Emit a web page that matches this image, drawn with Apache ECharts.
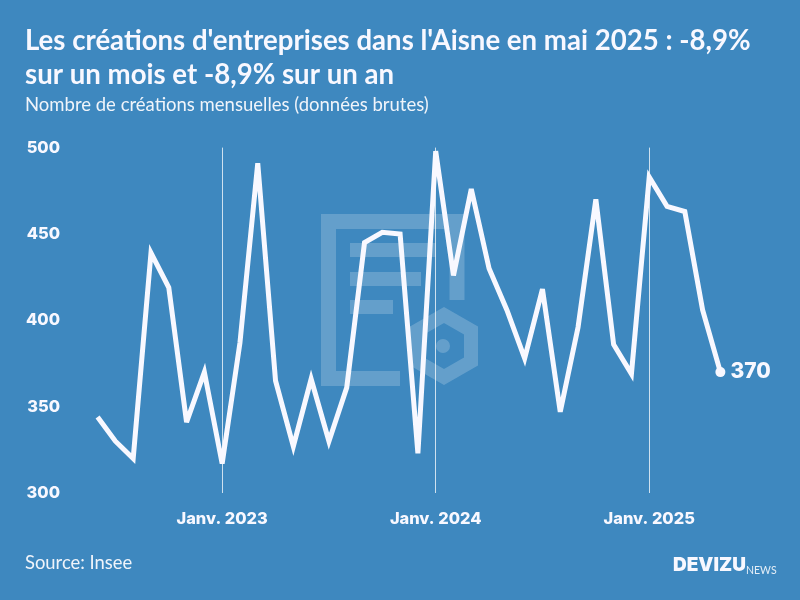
<!DOCTYPE html>
<html>
<head>
<meta charset="utf-8">
<style>
  html, body { margin: 0; padding: 0; background: #3e88bf; }
  #chart { width: 800px; height: 600px; }
</style>
<script src="https://cdn.jsdelivr.net/npm/echarts@6/dist/echarts.min.js"></script>
</head>
<body>
<div id="chart"></div>
<script>
const months = [
  'Juin 2022', 'Juil. 2022', 'Août 2022', 'Sept. 2022', 'Oct. 2022', 'Nov. 2022', 'Déc. 2022',
  'Janv. 2023', 'Févr. 2023', 'Mars 2023', 'Avr. 2023', 'Mai 2023', 'Juin 2023', 'Juil. 2023', 'Août 2023', 'Sept. 2023', 'Oct. 2023', 'Nov. 2023', 'Déc. 2023',
  'Janv. 2024', 'Févr. 2024', 'Mars 2024', 'Avr. 2024', 'Mai 2024', 'Juin 2024', 'Juil. 2024', 'Août 2024', 'Sept. 2024', 'Oct. 2024', 'Nov. 2024', 'Déc. 2024',
  'Janv. 2025', 'Févr. 2025', 'Mars 2025', 'Avr. 2025', 'Mai 2025'
]
const creations = [
  344, 330, 320, 439, 419, 341, 370,
  317, 387, 491, 365, 327, 366, 330, 361, 445, 451, 450, 323,
  498, 426, 476, 430, 406, 378, 418, 347, 396, 470, 386, 369,
  483, 466, 463, 406, 370
]

const NUM_FONT = 'Inter'
const isJanuary = (index) => months[index].startsWith('Janv.')
const mark = 'rgba(255,255,255,0.2)'

const chart = echarts.init(document.getElementById('chart'))
chart.setOption({
  animation: false,
  backgroundColor: '#3e88bf',
  textStyle: { fontFamily: NUM_FONT },
  grid: { left: 97.6, right: 79.6, top: 147.6, height: 345.4, containLabel: false },
  xAxis: {
    type: 'category',
    boundaryGap: false,
    data: months,
    axisLine: { show: false },
    axisTick: { show: false },
    axisLabel: {
      interval: isJanuary,
      margin: 18,
      color: '#f8f8ff',
      fontFamily: NUM_FONT,
      fontSize: 16.4,
      fontWeight: 800
    },
    splitLine: {
      show: true,
      interval: isJanuary,
      lineStyle: { color: 'rgba(255,255,255,0.75)', width: 1 }
    }
  },
  yAxis: {
    type: 'value',
    min: 300,
    max: 500,
    interval: 50,
    axisLine: { show: false },
    axisTick: { show: false },
    splitLine: { show: false },
    axisLabel: {
      margin: 37.6,
      color: '#f8f8ff',
      fontFamily: NUM_FONT,
      fontSize: 16.4,
      fontWeight: 800
    }
  },
  series: [{
    type: 'line',
    data: creations,
    z: 5,
    symbol: (v, params) => params.dataIndex === creations.length - 1 ? 'circle' : 'none',
    symbolSize: 10,
    showAllSymbol: true,
    itemStyle: { color: '#f8f8ff' },
    lineStyle: { color: '#f8f8ff', width: 5, join: 'miter', miterLimit: 4, cap: 'butt' },
    endLabel: {
      show: true,
      distance: 10,
      color: '#f8f8ff',
      fontFamily: NUM_FONT,
      fontSize: 21,
      fontWeight: 800
    }
  }],
  graphic: [
    // filigrane
    { type: 'polyline', z: 0, shape: { points: [[457, 300], [457, 221.5], [328.5, 221.5], [328.5, 378.5], [400, 378.5]] }, style: { fill: null, stroke: mark, lineWidth: 15 } },
    { type: 'rect', z: 0, shape: { x: 350, y: 243, width: 86, height: 14 }, style: { fill: mark } },
    { type: 'rect', z: 0, shape: { x: 350, y: 272, width: 71, height: 14 }, style: { fill: mark } },
    { type: 'rect', z: 0, shape: { x: 350, y: 300, width: 43, height: 14 }, style: { fill: mark } },
    { type: 'polygon', z: 0, shape: { points: [[444, 315], [471, 330.5], [471, 361.5], [444, 377], [417, 361.5], [417, 330.5]] }, style: { fill: null, stroke: mark, lineWidth: 14 } },
    { type: 'circle', z: 0, shape: { cx: 443, cy: 346, r: 7 }, style: { fill: mark } },
    // titres
    { type: 'text', left: 25, top: 27, style: { text: "Les créations d'entreprises dans l'Aisne en mai 2025 : -8,9%", fill: '#f8f8ff', font: 'bold 27.6px Lato' } },
    { type: 'text', left: 25, top: 61, style: { text: 'sur un mois et -8,9% sur un an', fill: '#f8f8ff', font: 'bold 27.6px Lato' } },
    { type: 'text', left: 25, top: 96, style: { text: 'Nombre de créations mensuelles (données brutes)', fill: '#f0f4fa', font: '18.5px Lato' } },
    { type: 'text', left: 25, top: 554, style: { text: 'Source: Insee', fill: '#f0f4fa', font: '18.4px Lato' } },
    // logo
    { type: 'text', left: 673, top: 556, style: { text: 'DEVIZU', fill: '#f8f8ff', font: '900 19px Inter' } },
    { type: 'text', left: 746, top: 565, style: { text: 'NEWS', fill: '#e4eef7', font: '10.5px Lato' } }
  ]
})
</script>
</body>
</html>
